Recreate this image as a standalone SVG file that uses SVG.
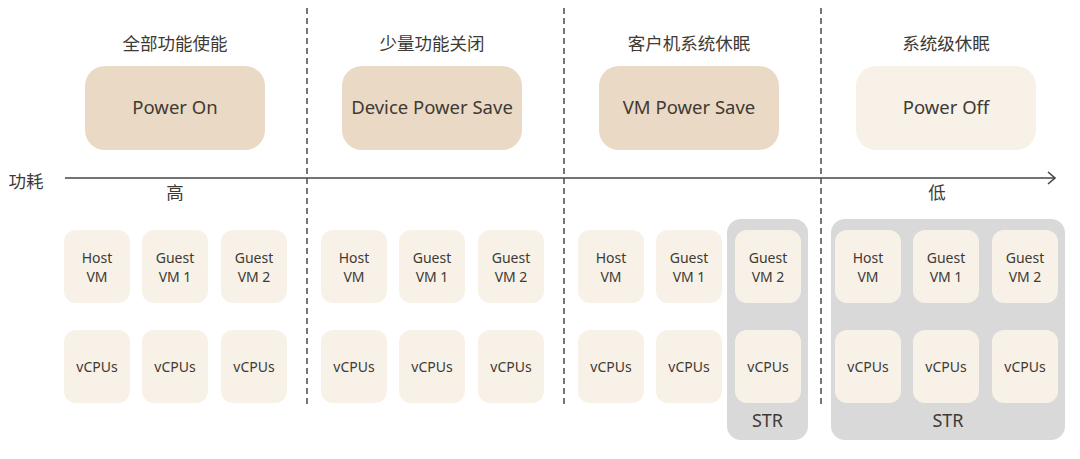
<svg xmlns="http://www.w3.org/2000/svg" width="1080" height="459" viewBox="0 0 1080 459">
<style>
text{font-family:"Noto Sans","Noto Sans CJK SC",sans-serif;fill:#403a34;text-anchor:middle}
.title{font-size:17.5px}
.big{font-size:18.5px}
.sm{font-size:14px}
.str{font-size:18px}
.mode{fill:#ead9c4}
.off{fill:#f7f1e8}
.cell{fill:#f7f1e8}
.grp{fill:#d9d9d9}
.dash{stroke:#555;stroke-width:1.6;stroke-dasharray:6 4;fill:none}
</style>
<defs>
<marker id="arr" markerWidth="12" markerHeight="14" refX="10" refY="7" orient="auto" markerUnits="userSpaceOnUse">
<path d="M3,1 L10,7 L3,13" fill="none" stroke="#444" stroke-width="1.6"/>
</marker>
</defs>
<rect width="1080" height="459" fill="#fff"/>
<g id="connectors">
<line x1="65" y1="178" x2="1055" y2="178" stroke="#444" stroke-width="1.6" marker-end="url(#arr)"/>
<line class="dash" x1="307" y1="8" x2="307" y2="405"/>
<line class="dash" x1="564" y1="8" x2="564" y2="405"/>
<line class="dash" x1="821" y1="8" x2="821" y2="405"/>
</g>
<g id="axis-labels">
<text x="26" y="188" class="title">功耗</text>
<text x="175" y="199" class="title">高</text>
<text x="937" y="199" class="title">低</text>
</g>
<g id="str-groups">
<rect class="grp" x="727" y="219" width="81" height="221" rx="14"/>
<text x="767.5" y="427" class="str">STR</text>
<rect class="grp" x="831" y="219" width="234" height="221" rx="14"/>
<text x="948" y="427" class="str">STR</text>
</g>
<g id="col1">
<text x="175" y="50" class="title">全部功能使能</text>
<rect class="mode" x="85" y="66" width="180" height="84" rx="20"/>
<text x="175" y="114" class="big">Power On</text>
<rect class="cell" x="64" y="230" width="66" height="73" rx="12"/>
<text x="97" y="263" class="sm">Host</text><text x="97" y="282" class="sm">VM</text>
<rect class="cell" x="142" y="230" width="66" height="73" rx="12"/>
<text x="175" y="263" class="sm">Guest</text><text x="175" y="282" class="sm">VM 1</text>
<rect class="cell" x="221" y="230" width="66" height="73" rx="12"/>
<text x="254" y="263" class="sm">Guest</text><text x="254" y="282" class="sm">VM 2</text>
<rect class="cell" x="64" y="330" width="66" height="73" rx="12"/>
<text x="97" y="372" class="sm">vCPUs</text>
<rect class="cell" x="142" y="330" width="66" height="73" rx="12"/>
<text x="175" y="372" class="sm">vCPUs</text>
<rect class="cell" x="221" y="330" width="66" height="73" rx="12"/>
<text x="254" y="372" class="sm">vCPUs</text>
</g>
<g id="col2">
<text x="432" y="50" class="title">少量功能关闭</text>
<rect class="mode" x="342" y="66" width="180" height="84" rx="20"/>
<text x="432" y="114" class="big">Device Power Save</text>
<rect class="cell" x="321" y="230" width="66" height="73" rx="12"/>
<text x="354" y="263" class="sm">Host</text><text x="354" y="282" class="sm">VM</text>
<rect class="cell" x="399" y="230" width="66" height="73" rx="12"/>
<text x="432" y="263" class="sm">Guest</text><text x="432" y="282" class="sm">VM 1</text>
<rect class="cell" x="478" y="230" width="66" height="73" rx="12"/>
<text x="511" y="263" class="sm">Guest</text><text x="511" y="282" class="sm">VM 2</text>
<rect class="cell" x="321" y="330" width="66" height="73" rx="12"/>
<text x="354" y="372" class="sm">vCPUs</text>
<rect class="cell" x="399" y="330" width="66" height="73" rx="12"/>
<text x="432" y="372" class="sm">vCPUs</text>
<rect class="cell" x="478" y="330" width="66" height="73" rx="12"/>
<text x="511" y="372" class="sm">vCPUs</text>
</g>
<g id="col3">
<text x="689" y="50" class="title">客户机系统休眠</text>
<rect class="mode" x="599" y="66" width="180" height="84" rx="20"/>
<text x="689" y="114" class="big">VM Power Save</text>
<rect class="cell" x="578" y="230" width="66" height="73" rx="12"/>
<text x="611" y="263" class="sm">Host</text><text x="611" y="282" class="sm">VM</text>
<rect class="cell" x="656" y="230" width="66" height="73" rx="12"/>
<text x="689" y="263" class="sm">Guest</text><text x="689" y="282" class="sm">VM 1</text>
<rect class="cell" x="735" y="230" width="66" height="73" rx="12"/>
<text x="768" y="263" class="sm">Guest</text><text x="768" y="282" class="sm">VM 2</text>
<rect class="cell" x="578" y="330" width="66" height="73" rx="12"/>
<text x="611" y="372" class="sm">vCPUs</text>
<rect class="cell" x="656" y="330" width="66" height="73" rx="12"/>
<text x="689" y="372" class="sm">vCPUs</text>
<rect class="cell" x="735" y="330" width="66" height="73" rx="12"/>
<text x="768" y="372" class="sm">vCPUs</text>
</g>
<g id="col4">
<text x="946" y="50" class="title">系统级休眠</text>
<rect class="off" x="856" y="66" width="180" height="84" rx="20"/>
<text x="946" y="114" class="big">Power Off</text>
<rect class="cell" x="835" y="230" width="66" height="73" rx="12"/>
<text x="868" y="263" class="sm">Host</text><text x="868" y="282" class="sm">VM</text>
<rect class="cell" x="913" y="230" width="66" height="73" rx="12"/>
<text x="946" y="263" class="sm">Guest</text><text x="946" y="282" class="sm">VM 1</text>
<rect class="cell" x="992" y="230" width="66" height="73" rx="12"/>
<text x="1025" y="263" class="sm">Guest</text><text x="1025" y="282" class="sm">VM 2</text>
<rect class="cell" x="835" y="330" width="66" height="73" rx="12"/>
<text x="868" y="372" class="sm">vCPUs</text>
<rect class="cell" x="913" y="330" width="66" height="73" rx="12"/>
<text x="946" y="372" class="sm">vCPUs</text>
<rect class="cell" x="992" y="330" width="66" height="73" rx="12"/>
<text x="1025" y="372" class="sm">vCPUs</text>
</g>
</svg>
